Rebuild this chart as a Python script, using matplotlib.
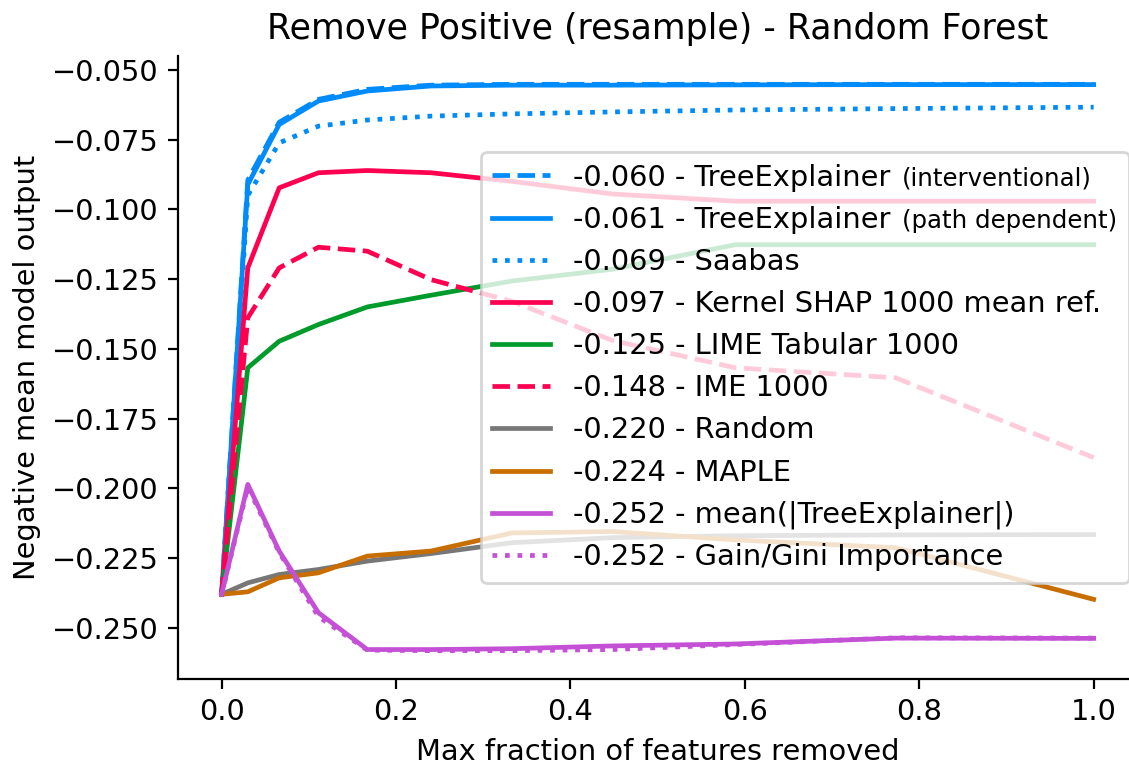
import matplotlib
matplotlib.use("Agg")
from matplotlib import pyplot as plt
from matplotlib.offsetbox import TextArea, HPacker

# fraction of features removed
x = [0.0, 0.03, 0.066, 0.111, 0.167, 0.24, 0.333, 0.448, 0.589, 0.773, 1.0]

tree_interventional = [-0.238, -0.0895, -0.0688, -0.0606, -0.0570, -0.0555,
                       -0.0552, -0.0552, -0.0552, -0.0552, -0.0552]
tree_path_dependent = [-0.238, -0.0911, -0.0696, -0.0612, -0.0576, -0.0558,
                       -0.0555, -0.0555, -0.0554, -0.0553, -0.0553]
saabas = [-0.238, -0.0950, -0.0762, -0.0702, -0.0680, -0.0666,
          -0.0658, -0.0651, -0.0644, -0.0639, -0.0634]
kernel_shap = [-0.238, -0.1210, -0.0923, -0.0869, -0.0861, -0.0869,
               -0.0900, -0.0945, -0.0971, -0.0971, -0.0971]
lime = [-0.238, -0.1568, -0.1473, -0.1413, -0.1350, -0.1308,
        -0.1257, -0.1215, -0.1127, -0.1127, -0.1127]
ime = [-0.238, -0.1389, -0.1210, -0.1136, -0.1150, -0.1252,
       -0.1330, -0.1470, -0.1568, -0.1604, -0.1890]
random_ = [-0.238, -0.2339, -0.2309, -0.2291, -0.2261, -0.2234,
           -0.2195, -0.2177, -0.2170, -0.2167, -0.2166]
maple = [-0.238, -0.2371, -0.2321, -0.2303, -0.2243, -0.2225,
         -0.2160, -0.2155, -0.2185, -0.2213, -0.2398]
mean_tree = [-0.238, -0.1986, -0.2225, -0.2446, -0.2578, -0.2578,
             -0.2575, -0.2565, -0.2558, -0.2537, -0.2538]
gain_gini = [-0.238, -0.1995, -0.2230, -0.2460, -0.2580, -0.2582,
             -0.2582, -0.2578, -0.2560, -0.2536, -0.2537]

blue = "#008bfb"
red = "#ff0051"

plt.rcParams.update({"font.family": "DejaVu Sans", "font.size": 10.4})
fig = plt.figure(figsize=(5.645, 3.83), dpi=200)
ax = fig.add_axes([0.1577, 0.1136, 0.8496, 0.8133])

lw = 1.7
ax.plot(x, tree_interventional, "--", color=blue, lw=lw,
        label="-0.060 - TreeExplainer")
ax.plot(x, tree_path_dependent, "-", color=blue, lw=lw,
        label="-0.061 - TreeExplainer")
ax.plot(x, saabas, ":", color=blue, lw=lw, label="-0.069 - Saabas")
ax.plot(x, kernel_shap, "-", color=red, lw=lw,
        label="-0.097 - Kernel SHAP 1000 mean ref.")
ax.plot(x, lime, "-", color="#009b2a", lw=lw, label="-0.125 - LIME Tabular 1000")
ax.plot(x, ime, "--", color=red, lw=lw, label="-0.148 - IME 1000")
ax.plot(x, random_, "-", color="#777777", lw=lw, label="-0.220 - Random")
ax.plot(x, maple, "-", color="#c86e00", lw=lw, label="-0.224 - MAPLE")
ax.plot(x, mean_tree, "-", color="#c450d6", lw=lw,
        label="-0.252 - mean(|TreeExplainer|)")
ax.plot(x, gain_gini, ":", color="#c450d6", lw=lw,
        label="-0.252 - Gain/Gini Importance")

leg = ax.legend(loc="center right", labelspacing=0.49, borderaxespad=0.3)

# smaller notes after the two TreeExplainer labels, packed into the legend rows
notes = {0: "(interventional)", 1: "(path dependent)"}
rows = leg._legend_handle_box.get_children()[0].get_children()
for i, note in notes.items():
    row = rows[i]
    old = row._children[1]
    small = TextArea(note, textprops=dict(fontsize=8.8))
    packed = HPacker(children=[old, small], align="baseline", pad=0, sep=4)
    packed.set_figure(fig)
    row._children[1] = packed

ax.set_xlabel("Max fraction of features removed")
ax.set_ylabel("Negative mean model output")
ax.set_title("Remove Positive (resample) - Random Forest", fontsize=12.5)
ax.spines["top"].set_visible(False)
ax.spines["right"].set_visible(False)

fig.savefig("out.png", dpi=200)
